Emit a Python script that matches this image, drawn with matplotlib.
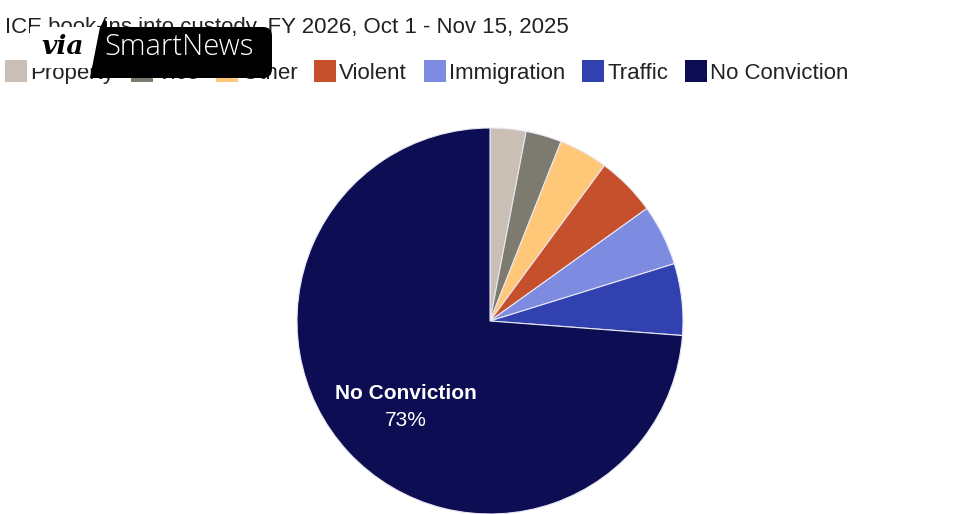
import matplotlib
matplotlib.use("Agg")
import matplotlib.pyplot as plt
from matplotlib.patches import Patch, Polygon, FancyBboxPatch

W, H = 980, 514
categories = ["Property", "Vice", "Other", "Violent", "Immigration", "Traffic", "No Conviction"]
values = [3.0, 3.0, 4.1, 5.0, 5.1, 6.0, 73.8]
colors = ["#C9BFB5", "#7D7A6F", "#FFC878", "#C64F2C", "#7D8BE0", "#3241B0", "#0C0D52"]
title = "ICE book-ins into custody, FY 2026, Oct 1 - Nov 15, 2025"
font = "Liberation Sans"

fig = plt.figure(figsize=(W / 100, H / 100), dpi=100, facecolor="white")
bg = fig.add_axes([0, 0, 1, 1], zorder=3)
bg.set_xlim(0, W); bg.set_ylim(H, 0); bg.axis("off")

cx, cy, r = 490, 321, 193
ax = fig.add_axes([(cx - r) / W, 1 - (cy + r) / H, 2 * r / W, 2 * r / H])
ax.pie(values, colors=colors, startangle=90, counterclock=False, radius=1,
       wedgeprops=dict(edgecolor="#E8E8F4", linewidth=0.8))
ax.set_xlim(-1, 1); ax.set_ylim(-1, 1)

ax.text(-0.435, -0.375, "No Conviction", color="white", fontsize=15, fontweight="bold",
        family=font, ha="center", va="center")
ax.text(-0.435, -0.515, "73%", color="white", fontsize=15, family=font, ha="center", va="center")

fig.text(5 / W, 1 - 28 / H, title, fontsize=16, family=font, color="#222222", va="center", zorder=1)

handles = [Patch(facecolor=c, edgecolor="none") for c in colors]
leg = fig.legend(handles, categories, loc="center left", bbox_to_anchor=(5 / W, 1 - 72 / H),
                 ncol=7, frameon=False, prop={"family": font, "size": 16},
                 handlelength=1.0, handleheight=1.1, handletextpad=0.15, columnspacing=0.74,
                 labelcolor="#222222", borderpad=0, borderaxespad=0)
leg.set_zorder(1)

bg.add_patch(Polygon([(30, 27), (100, 27), (92, 68), (30, 68)], closed=True, fc="white", ec="none"))
bg.add_patch(FancyBboxPatch((110, 27), 162, 51, boxstyle="round,pad=0,rounding_size=9", fc="black", ec="none"))
bg.add_patch(Polygon([(100, 27), (125, 27), (125, 78), (90, 78)], closed=True, fc="black", ec="none"))
bg.add_patch(Polygon([(105, 17), (107, 28), (100, 28)], closed=True, fc="black", ec="none"))
bg.text(104, 47, "SmartNews", color="white", fontsize=21, family="Open Sans", fontweight="light", va="center", ha="left")
bg.text(41, 47, "via", color="black", fontsize=19, family="DejaVu Serif", fontweight="bold", style="italic", va="center", ha="left")

fig.savefig("out.png", dpi=100)
